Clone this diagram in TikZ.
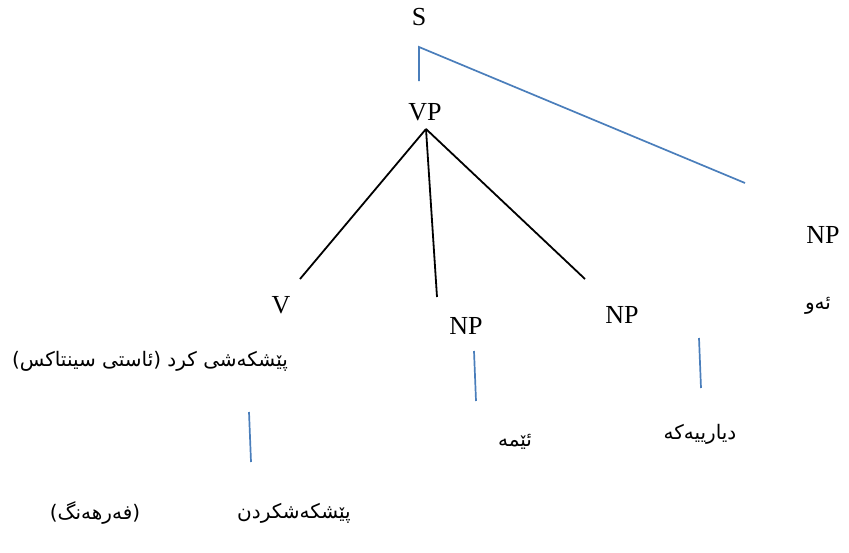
\documentclass[tikz,border=0pt]{standalone}
\usepackage{fontspec}
\setmainfont{Liberation Serif}
\newfontfamily\kurdish[Script=Arabic]{DejaVu Sans}
\TeXXeTstate=1
\usetikzlibrary{positioning}
\definecolor{linkblue}{HTML}{4A7EBB}
\tikzset{category/.style = {
    inner sep=0pt,
    font=\fontsize{26}{30}\selectfont
}}
\tikzset{word/.style = {
    inner sep=0pt,
    font=\kurdish\fontsize{20}{24}\selectfont
}}
\tikzset{branch/.style = {black, line width=1.8pt}}
\tikzset{link/.style = {linkblue, line width=1.7pt}}

\begin{document}
\begin{tikzpicture}[x=1pt, y=-1pt]
\useasboundingbox (0,0) rectangle (849,552);

% categories
\node (s) [category] at (419,17) {S};
\node (vp) [category] at (425,112) {VP};
\node (v) [category] at (281,305) {V};
\node (npa) [category] at (466,326) {NP};
\node (npb) [category] at (622,315) {NP};
\node (npc) [category] at (823,235) {NP};

% words
\node (verb) [word] at (150,361) {\beginR پێشکەشی کرد (ئاستی سینتاکس)\endR};
\node (lexeme) [word] at (294,513) {\beginR پێشکەشکردن\endR};
\node (lexicon) [word] at (95,513) {\beginR (فەرهەنگ)\endR};
\node (we) [word] at (515,442) {\beginR ئێمە\endR};
\node (gift) [word] at (700,434) {\beginR دیارییەکە\endR};
\node (he) [word] at (818,306) {\beginR ئەو\endR};

% line ends
\coordinate (s-root) at (419,47);
\coordinate (vp-top) at (419,81);
\coordinate (far-end) at (745,183);
\coordinate (vp-root) at (426,129);
\coordinate (v-top) at (300,279);
\coordinate (npa-top) at (437,297);
\coordinate (npb-top) at (585,279);
\coordinate (verb-low) at (249,412);
\coordinate (lexeme-top) at (251,462);
\coordinate (npa-low) at (474,351);
\coordinate (we-top) at (476,401);
\coordinate (npb-low) at (699,338);
\coordinate (gift-top) at (701,388);

\draw [link] (vp-top) -- (s-root) -- (far-end);
\draw [branch] (vp-root) -- (v-top);
\draw [branch] (vp-root) -- (npa-top);
\draw [branch] (vp-root) -- (npb-top);
\draw [link] (verb-low) -- (lexeme-top);
\draw [link] (npa-low) -- (we-top);
\draw [link] (npb-low) -- (gift-top);

\end{tikzpicture}
\end{document}
